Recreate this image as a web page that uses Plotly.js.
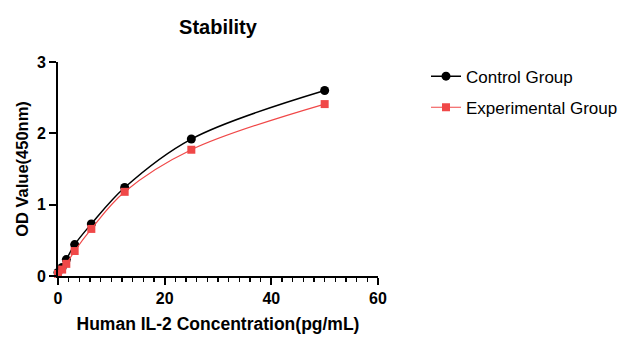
<!DOCTYPE html>
<html>
<head>
<meta charset="utf-8">
<script src="https://cdn.plot.ly/plotly-3.0.1.min.js"></script>
<style>html,body{margin:0;padding:0;background:#fff}#chart{width:634px;height:350px}</style>
</head>
<body>
<div id="chart"></div>
<script>
const concentrations = [0, 0.78, 1.56, 3.125, 6.25, 12.5, 25, 50];
const controlOD = [0.05, 0.12, 0.23, 0.44, 0.73, 1.24, 1.92, 2.60];
const experimentalOD = [0.03, 0.09, 0.17, 0.35, 0.66, 1.18, 1.77, 2.41];
const seriesNames = ['Control Group', 'Experimental Group'];
const xTickVals = [0, 20, 40, 60];
const yTickVals = [0, 1, 2, 3];

const font = 'Liberation Sans, Arial, sans-serif';
const traces = [
  {
    x: concentrations, y: controlOD, name: seriesNames[0], type: 'scatter', mode: 'lines+markers',
    legendgroup: 'a',
    line: {color: '#000000', width: 1.5, shape: 'spline', smoothing: 1},
    marker: {color: '#000000', size: 9, symbol: 'circle'},
    cliponaxis: false
  },
  {
    x: concentrations, y: experimentalOD, name: seriesNames[1], type: 'scatter', mode: 'lines+markers',
    legendgroup: 'b',
    line: {color: '#f04848', width: 1.2, shape: 'spline', smoothing: 1},
    marker: {color: '#f04848', size: 8, symbol: 'square'},
    cliponaxis: false
  }
];
const layout = {
  width: 634, height: 350,
  margin: {l: 58, r: 256, t: 62, b: 74, autoexpand: false},
  paper_bgcolor: '#ffffff', plot_bgcolor: '#ffffff',
  font: {family: font, color: '#000'},
  title: {text: '<b>Stability</b>', font: {size: 20, family: font, color: '#000'}, x: 0.5, xanchor: 'center', xref: 'paper', y: 0.922, yanchor: 'middle'},
  xaxis: {
    range: [0, 60], tickvals: xTickVals, ticktext: xTickVals.map(v => '<b>' + v + '</b>'),
    ticks: 'outside', ticklen: 7, tickwidth: 2, tickcolor: '#000',
    minor: {dtick: 2, ticks: 'outside', ticklen: 4, tickwidth: 1.5, tickcolor: '#000', showgrid: false},
    showline: true, linewidth: 2, linecolor: '#000', showgrid: false, zeroline: false,
    tickfont: {size: 16, family: font, color: '#000'},
    title: {text: '<b>Human IL-2 Concentration(pg/mL)</b>', font: {size: 17.5, family: font, color: '#000'}, standoff: 12}
  },
  yaxis: {
    range: [0, 3], tickvals: yTickVals, ticktext: yTickVals.map(v => '<b>' + v + '</b>'),
    ticks: 'outside', ticklen: 7, tickwidth: 2, tickcolor: '#000',
    showline: true, linewidth: 2, linecolor: '#000', showgrid: false, zeroline: false,
    tickfont: {size: 16, family: font, color: '#000'},
    title: {text: '<b>OD Value(450nm)</b>', font: {size: 16.5, family: font, color: '#000'}, standoff: 4}
  },
  showlegend: true,
  legend: {x: 1.15, xanchor: 'left', y: 1.016, yanchor: 'top', traceorder: 'grouped', font: {size: 17, family: font, color: '#000'}, tracegroupgap: 6, itemwidth: 30, bgcolor: 'rgba(0,0,0,0)'}
};
Plotly.newPlot('chart', traces, layout, {displayModeBar: false, staticPlot: true});
</script>
</body>
</html>
